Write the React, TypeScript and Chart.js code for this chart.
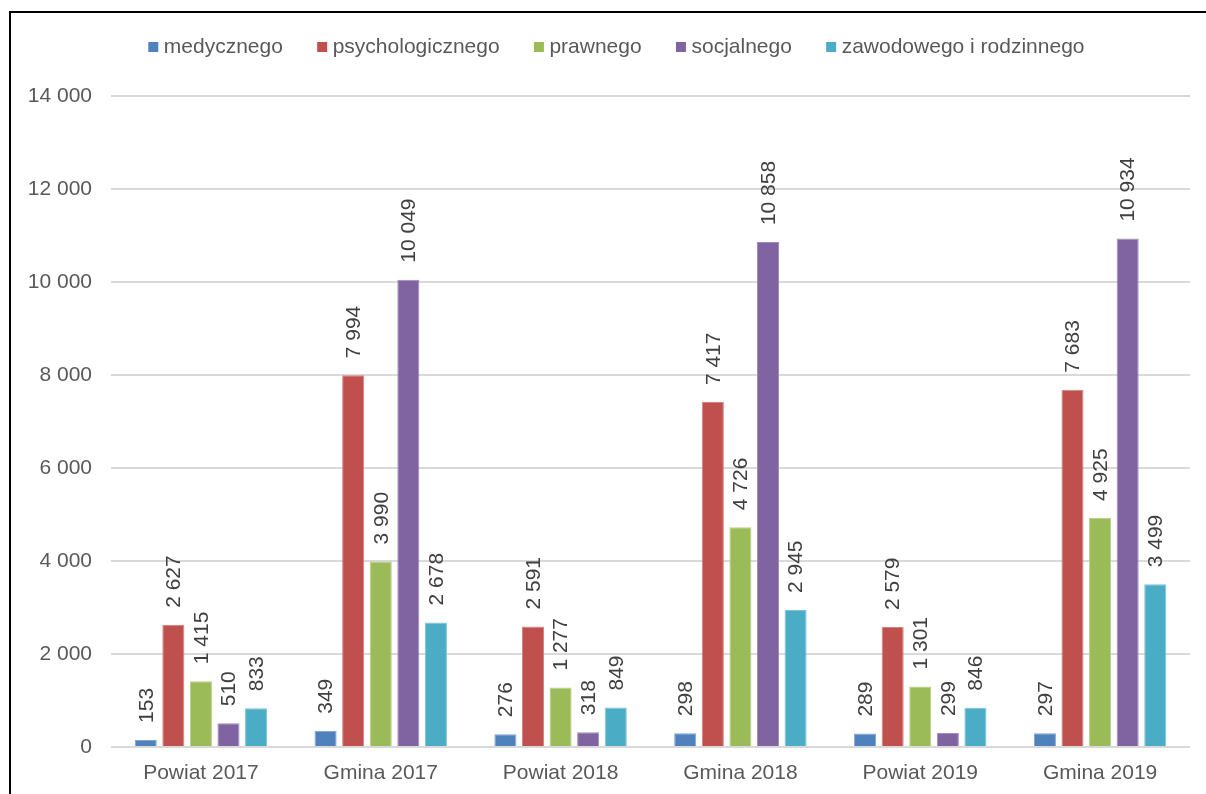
import React, { useEffect, useRef } from "react";
import { Chart, registerables } from "chart.js";

Chart.register(...registerables);

const categories = ["Powiat 2017", "Gmina 2017", "Powiat 2018", "Gmina 2018", "Powiat 2019", "Gmina 2019"];
const seriesNames = ["medycznego", "psychologicznego", "prawnego", "socjalnego", "zawodowego i rodzinnego"];
const medyczne = [153, 349, 276, 298, 289, 297];
const psychologiczne = [2627, 7994, 2591, 7417, 2579, 7683];
const prawne = [1415, 3990, 1277, 4726, 1301, 4925];
const socjalne = [510, 10049, 318, 10858, 299, 10934];
const zawodowe = [833, 2678, 849, 2945, 846, 3499];
const seriesColors = ["#4F81BD", "#C0504D", "#9BBB59", "#8064A2", "#4BACC6"];
const seriesEdges = ["#7FA3D1", "#D48380", "#B9D08A", "#A08BBC", "#7DC4D7"];
const yMin = 0;
const yMax = 14000;
const yStep = 2000;

const FONT = "'Liberation Sans', Arial, sans-serif";

function fmt(v: number): string {
  return String(v).replace(/\B(?=(\d{3})+(?!\d))/g, " ");
}

// Rotated value labels above each bar
const valueLabels = {
  id: "valueLabels",
  afterDatasetsDraw(chart: any) {
    const ctx = chart.ctx;
    ctx.save();
    ctx.font = `21px ${FONT}`;
    ctx.fillStyle = "#404040";
    ctx.textAlign = "left";
    ctx.textBaseline = "middle";
    chart.data.datasets.forEach((ds: any, di: number) => {
      const meta = chart.getDatasetMeta(di);
      meta.data.forEach((bar: any, i: number) => {
        const v = ds.data[i];
        ctx.save();
        ctx.translate(bar.x + 1, bar.y - 17);
        ctx.rotate(-Math.PI / 2);
        ctx.fillText(fmt(v), 0, 0);
        ctx.restore();
      });
    });
    ctx.restore();
  },
};

// Legend row drawn across the top
const topLegend = {
  id: "topLegend",
  afterDraw(chart: any) {
    const ctx = chart.ctx;
    const box = 10;
    const boxGap = 5.5;
    const itemGap = 34.3;
    const centerX = 605.4;
    const centerY = 34;
    ctx.save();
    ctx.font = `21px ${FONT}`;
    const widths = seriesNames.map((n) => ctx.measureText(n).width);
    const total = widths.reduce((a, w) => a + box + boxGap + w, 0) + itemGap * (seriesNames.length - 1);
    let x = centerX - total / 2;
    ctx.textAlign = "left";
    ctx.textBaseline = "middle";
    seriesNames.forEach((n, i) => {
      ctx.fillStyle = seriesColors[i];
      ctx.fillRect(x, centerY - box / 2, box, box);
      x += box + boxGap;
      ctx.fillStyle = "#595959";
      ctx.fillText(n, x, centerY);
      x += widths[i] + itemGap;
    });
    ctx.restore();
  },
};

export default function App() {
  const ref = useRef<HTMLCanvasElement | null>(null);

  useEffect(() => {
    if (!ref.current) return;
    const values = [medyczne, psychologiczne, prawne, socjalne, zawodowe];
    const chart = new Chart(ref.current, {
      type: "bar",
      data: {
        labels: categories,
        datasets: seriesNames.map((name, i) => ({
          label: name,
          data: values[i],
          backgroundColor: seriesColors[i],
          borderColor: seriesEdges[i],
          borderWidth: 1,
          categoryPercentage: 0.767,
          barPercentage: 0.8,
        })),
      },
      options: {
        animation: false,
        responsive: false,
        devicePixelRatio: 1,
        layout: { padding: { top: 83, right: 16, left: 0, bottom: 0 } },
        plugins: {
          legend: { display: false },
          tooltip: { enabled: false },
          title: { display: false },
        },
        scales: {
          x: {
            grid: { display: false, drawTicks: false },
            border: { display: false },
            ticks: { color: "#595959", font: { size: 21, family: FONT }, padding: 14 },
            afterFit(scale: any) {
              scale.height = 47;
            },
          },
          y: {
            min: yMin,
            max: yMax,
            grid: { color: "#D9D9D9", lineWidth: 2, drawTicks: false },
            border: { display: false },
            ticks: {
              stepSize: yStep,
              color: "#595959",
              font: { size: 21, family: FONT },
              padding: 19,
              callback: (v: any) => fmt(Number(v)),
            },
            afterFit(scale: any) {
              scale.width = 100;
            },
          },
        },
      },
      plugins: [valueLabels, topLegend],
    });
    return () => chart.destroy();
  }, []);

  return (
    <div style={{ position: "absolute", left: 0, top: 0, width: 1206, height: 794, overflow: "hidden", background: "#fff" }}>
      <div
        style={{
          position: "absolute",
          left: 9,
          top: 11,
          width: 1220,
          height: 800,
          borderLeft: "2px solid #000",
          borderTop: "2px solid #000",
          boxSizing: "border-box",
        }}
      />
      <canvas ref={ref} width={1195} height={781} style={{ position: "absolute", left: 11, top: 13 }} />
    </div>
  );
}
